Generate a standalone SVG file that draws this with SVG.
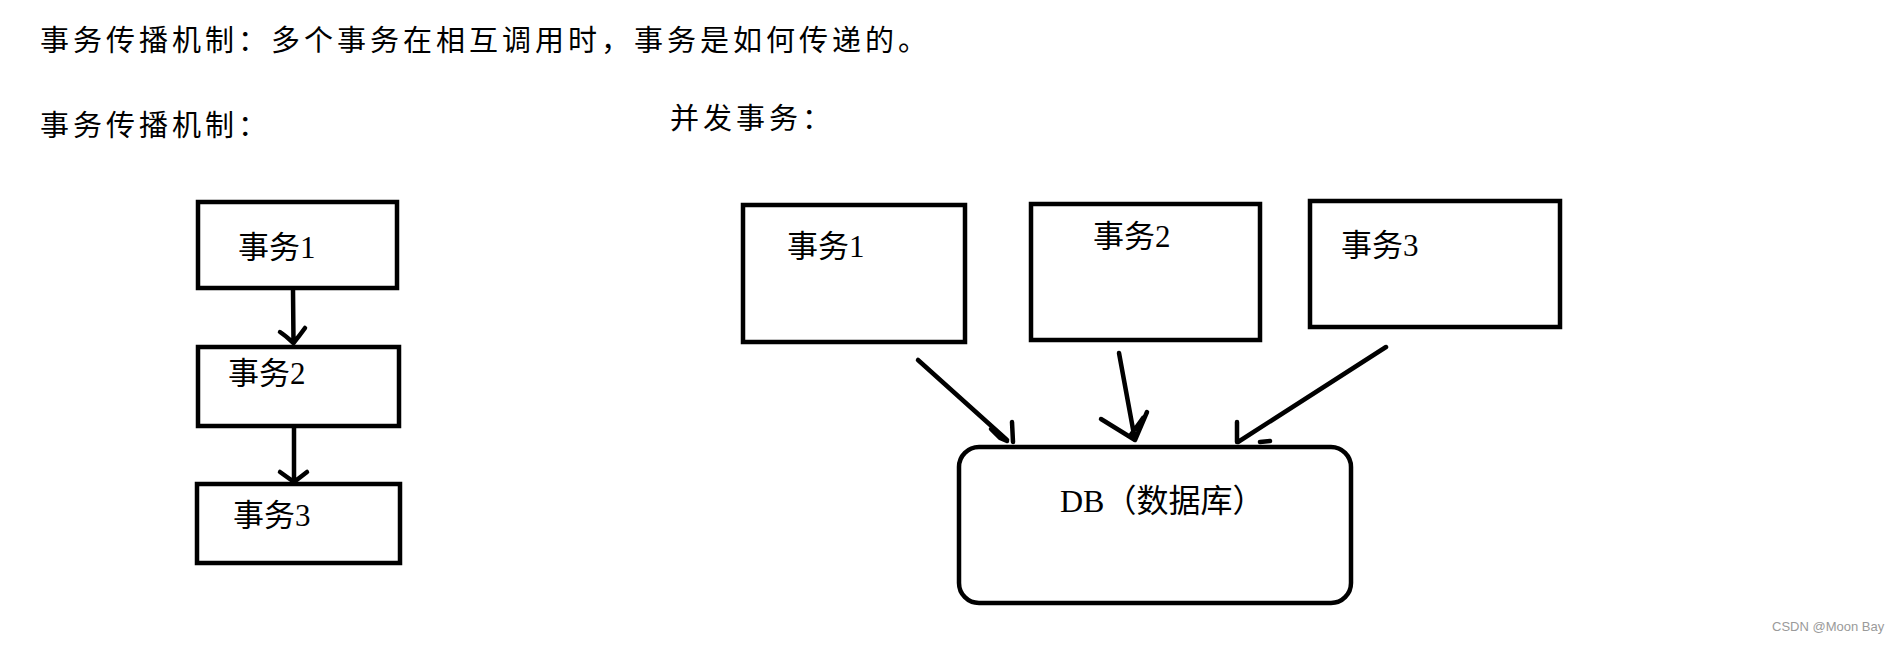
<svg xmlns="http://www.w3.org/2000/svg" width="1901" height="645" viewBox="0 0 1901 645">
<style>
.t{font-family:"Liberation Serif","Noto Sans CJK SC",serif;fill:#000}
.h{font-size:29px;letter-spacing:4px}
.n{font-size:31px}
.box{fill:#fff;stroke:#000;stroke-width:4.5}
.ln{fill:none;stroke:#000;stroke-width:4.5;stroke-linecap:round;stroke-linejoin:round}
.wm{font-family:"Liberation Sans",Arial,sans-serif;font-size:13px;fill:#9a9a9a}
</style>
<rect width="1901" height="645" fill="#fff"/>
<text class="t h" x="40" y="51">事务传播机制：多个事务在相互调用时，事务是如何传递的。</text>
<text class="t h" x="40" y="136">事务传播机制：</text>
<text class="t h" x="670" y="129">并发事务：</text>

<g id="l1"><rect class="box" x="198" y="202" width="199" height="86"/><text class="t n" x="238" y="258">事务1</text></g>
<g id="l2"><rect class="box" x="198" y="347" width="201" height="79"/><text class="t n" x="228" y="384">事务2</text></g>
<g id="l3"><rect class="box" x="197" y="484" width="203" height="79"/><text class="t n" x="233" y="526">事务3</text></g>

<g id="r1"><rect class="box" x="743" y="205" width="222" height="137"/><text class="t n" x="787" y="257">事务1</text></g>
<g id="r2"><rect class="box" x="1031" y="204" width="229" height="136"/><text class="t n" x="1093" y="247">事务2</text></g>
<g id="r3"><rect class="box" x="1310" y="201" width="250" height="126"/><text class="t n" x="1341" y="256">事务3</text></g>

<g id="db"><rect class="box" x="959" y="447" width="392" height="156" rx="20"/>
<text class="t" style="font-size:32px" x="1060" y="512">DB（数据库）</text></g>

<g id="connectors">
<path class="ln" d="M293 290 L293.5 343 M280 332 Q286 336 293.5 343 M305 328 Q300 335 293.5 343"/>
<path class="ln" d="M294 428 L294 482 M280 472 L294 482 M307 472 L294 482"/>
<path class="ln" d="M918 360 L1007 440 M1012 422 L1013 442 M991 429 L1000 438 L1007 441"/>
<path class="ln" d="M1119 353 L1135 440 M1101 419 L1135 440 M1147 412 L1135 440 M1143 418 L1130 436"/>
<path class="ln" d="M1386 347 L1238 442 M1237 422 L1237 442 M1260 442 L1270 441"/>
</g>
<text class="wm" x="1772" y="631">CSDN @Moon Bay</text>
</svg>
